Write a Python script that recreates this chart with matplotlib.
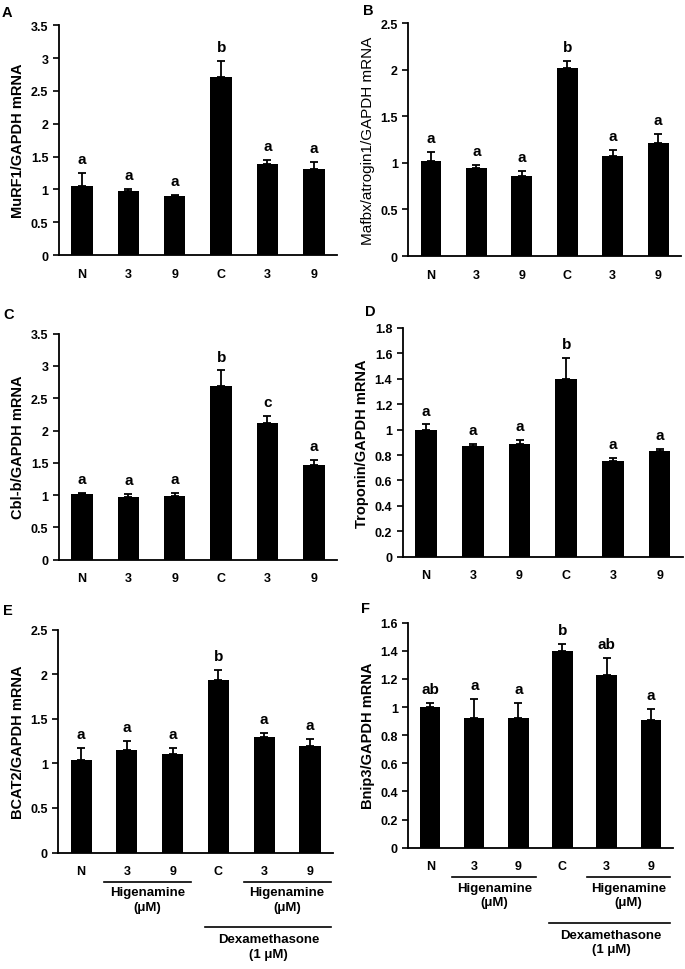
import matplotlib
matplotlib.use("Agg")
import matplotlib.pyplot as plt
import matplotlib.transforms as mtransforms

plt.rcParams['font.family'] = ['Liberation Sans', 'DejaVu Sans']
plt.rcParams['font.weight'] = 'bold'

groups = ['N', '3', '9', 'C', '3', '9']

murf1 = [1.05, 0.98, 0.90, 2.71, 1.39, 1.31]
murf1_err = [0.20, 0.03, 0.02, 0.25, 0.06, 0.11]
murf1_sig = ['a', 'a', 'a', 'b', 'a', 'a']

mafbx = [1.02, 0.95, 0.86, 2.02, 1.07, 1.21]
mafbx_err = [0.10, 0.03, 0.05, 0.07, 0.07, 0.10]
mafbx_sig = ['a', 'a', 'a', 'b', 'a', 'a']

cblb = [1.01, 0.97, 0.99, 2.69, 2.11, 1.47]
cblb_err = [0.02, 0.05, 0.05, 0.24, 0.12, 0.08]
cblb_sig = ['a', 'a', 'a', 'b', 'c', 'a']

troponin = [1.00, 0.87, 0.89, 1.40, 0.75, 0.83]
troponin_err = [0.04, 0.02, 0.03, 0.16, 0.03, 0.02]
troponin_sig = ['a', 'a', 'a', 'b', 'a', 'a']

bcat2 = [1.04, 1.15, 1.10, 1.93, 1.30, 1.19]
bcat2_err = [0.13, 0.10, 0.07, 0.12, 0.04, 0.08]
bcat2_sig = ['a', 'a', 'a', 'b', 'a', 'a']

bnip3 = [1.00, 0.92, 0.92, 1.40, 1.23, 0.91]
bnip3_err = [0.03, 0.14, 0.11, 0.05, 0.12, 0.08]
bnip3_sig = ['ab', 'a', 'a', 'b', 'ab', 'a']

# letter, values, errors, significance, y label, y max, step, axes rect, label size, label weight, letter pos (px)
panels = [
    ('A', murf1, murf1_err, murf1_sig, 'MuRF1/GAPDH mRNA', 3.5, 0.5, [0.086, 0.736, 0.406, 0.237], 10.5, 'bold', (2, 6)),
    ('B', mafbx, mafbx_err, mafbx_sig, 'Mafbx/atrogin1/GAPDH mRNA', 2.5, 0.5, [0.596, 0.735, 0.398, 0.240], 11, 'normal', (363, 4)),
    ('C', cblb, cblb_err, cblb_sig, 'Cbl-b/GAPDH mRNA', 3.5, 0.5, [0.086, 0.422, 0.406, 0.233], 10.5, 'bold', (3, 308)),
    ('D', troponin, troponin_err, troponin_sig, 'Troponin/GAPDH mRNA', 1.8, 0.2, [0.588, 0.425, 0.409, 0.236], 10.5, 'bold', (365, 305)),
    ('E', bcat2, bcat2_err, bcat2_sig, 'BCAT2/GAPDH mRNA', 2.5, 0.5, [0.085, 0.120, 0.401, 0.230], 10.5, 'bold', (3, 604)),
    ('F', bnip3, bnip3_err, bnip3_sig, 'Bnip3/GAPDH mRNA', 1.6, 0.2, [0.596, 0.125, 0.386, 0.232], 10.5, 'bold', (361, 602)),
]

W, H = 685, 970
fig = plt.figure(figsize=(W / 100, H / 100), dpi=100)

for letter, vals, errs, sig, ylab, ymax, step, rect, ysize, yweight, lpos in panels:
    ax = fig.add_axes(rect)
    x = list(range(len(vals)))
    ax.bar(x, vals, width=0.46, color='black')
    ax.errorbar(x, vals, yerr=[[0] * len(errs), errs], fmt='none',
                ecolor='black', elinewidth=1.3, capsize=3, capthick=1.3)
    for xi, v, e, s in zip(x, vals, errs, sig):
        ax.annotate(s, (xi, v + e), xytext=(0, 5), textcoords='offset points',
                    ha='center', va='bottom', fontsize=11, fontweight='bold')
    ax.set_xlim(-0.5, 5.5)
    ax.set_ylim(0, ymax)
    ticks = [round(i * step, 1) for i in range(int(round(ymax / step)) + 1)]
    ax.set_yticks(ticks)
    ax.set_yticklabels([('%g' % t) for t in ticks], fontsize=9, fontweight='bold')
    ax.set_xticks(x)
    ax.set_xticklabels(groups, fontsize=9, fontweight='bold')
    ax.tick_params(axis='x', length=0, pad=9)
    ax.tick_params(axis='y', length=4, width=1.2, direction='out')
    for sp in ['top', 'right']:
        ax.spines[sp].set_visible(False)
    for sp in ['left', 'bottom']:
        ax.spines[sp].set_linewidth(1.3)
    ax.set_ylabel(ylab, fontsize=ysize, fontweight=yweight)
    fig.text(lpos[0] / W, 1 - lpos[1] / H, letter, fontsize=10.5, fontweight='bold',
             ha='left', va='top')

    if letter in 'EF':
        tr = mtransforms.blended_transform_factory(ax.transData, ax.transAxes)
        ax.plot([0.5, 2.4], [-0.13, -0.13], color='black', lw=1.2, transform=tr, clip_on=False)
        ax.text(1.45, -0.15, 'Higenamine\n(\u03bcM)', transform=tr, ha='center', va='top',
                fontsize=9.5, fontweight='bold', linespacing=1.3)
        ax.plot([3.55, 5.45], [-0.13, -0.13], color='black', lw=1.2, transform=tr, clip_on=False)
        ax.text(4.5, -0.15, 'Higenamine\n(\u03bcM)', transform=tr, ha='center', va='top',
                fontsize=9.5, fontweight='bold', linespacing=1.3)
        ax.plot([2.7, 5.45], [-0.335, -0.335], color='black', lw=1.2, transform=tr, clip_on=False)
        ax.text(4.1, -0.36, 'Dexamethasone\n(1 \u03bcM)', transform=tr, ha='center', va='top',
                fontsize=9.5, fontweight='bold', linespacing=1.3)

fig.savefig('out.png', dpi=100)
